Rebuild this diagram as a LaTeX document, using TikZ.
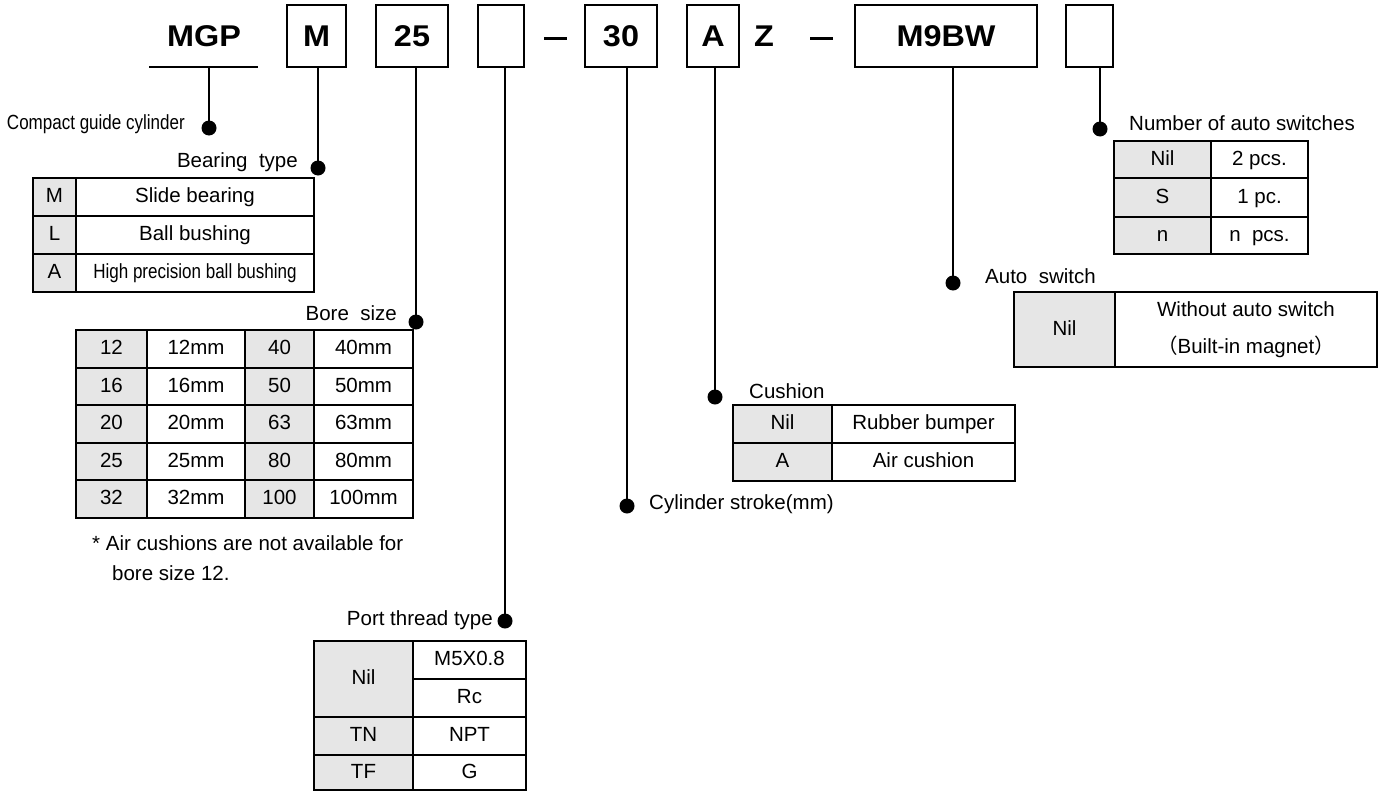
\documentclass[tikz,border=0pt]{standalone}
\usepackage{graphicx}
\usepackage{fontspec}
\setmainfont{Liberation Sans}
\newfontfamily\cjkfont{Noto Sans CJK JP}
\definecolor{cellgray}{HTML}{E6E6E6}
\newcommand\tcell[7]{\node[#6, minimum width={#4-#2}, minimum height={#5-#3}] (#1) at ({(#2+#4)/2},{(#3+#5)/2}) {#7};}
\newcommand\wide[1]{\scalebox{1.08}[1]{#1}}
\tikzset{
  ln/.style={line width=2.5pt},
  codebox/.style={draw, line width=2.5pt, inner sep=0pt, font=\fontsize{30}{36}\selectfont\bfseries},
  codetxt/.style={inner sep=0pt, font=\fontsize{30}{36}\selectfont\bfseries},
  lbl/.style={inner sep=0pt, font=\fontsize{20.5}{24}\selectfont},
  cellbase/.style={draw, line width=2.5pt, inner sep=0pt, font=\fontsize{20.5}{24}\selectfont},
  cell/.style={cellbase, text height=15pt, text depth=4pt},
  gcell/.style={cell, fill=cellgray},
  wcell/.style={cell, fill=white},
  dot/.style={circle, fill=black, inner sep=0pt, minimum size=15pt},
}
\begin{document}
\begin{tikzpicture}[x=1pt,y=-1pt]
\useasboundingbox (0,0) rectangle (1386,792);
\fill[white] (0,0) rectangle (1386,792);

% ---- top code row ----
\node[codetxt] (tMGP) at (204,36) {\wide{MGP}};
\coordinate (ulL) at (149,67);
\coordinate (ulR) at (258,67);
\draw[ln] (ulL) -- (ulR);
\node[codebox, minimum width=59, minimum height=62] (bM) at (316.5,36) {\wide{M}};
\node[codebox, minimum width=72, minimum height=62] (b25) at (412,36) {\wide{25}};
\node[codebox, minimum width=46, minimum height=62] (bP) at (501,36) {};
\coordinate (d1a) at (544,39); \coordinate (d1b) at (567,39);
\draw[line width=3pt] (d1a) -- (d1b);
\node[codebox, minimum width=72, minimum height=62] (b30) at (621,36) {\wide{30}};
\node[codebox, minimum width=52, minimum height=62] (bA) at (713,36) {\wide{A}};
\node[codetxt] (tZ) at (764,36) {\wide{Z}};
\coordinate (d2a) at (810,39); \coordinate (d2b) at (833,39);
\draw[line width=3pt] (d2a) -- (d2b);
\node[codebox, minimum width=182, minimum height=62] (bSW) at (946,36) {\wide{M9BW}};
\node[codebox, minimum width=47, minimum height=62] (bN) at (1089.5,36) {};

% ---- bullets ----
\node[dot] (dMGP) at (209,128) {};
\node[dot] (dM) at (318,168) {};
\node[dot] (d25) at (416,322) {};
\node[dot] (dP) at (505,621) {};
\node[dot] (d30) at (627,506) {};
\node[dot] (dA) at (715,397) {};
\node[dot] (dSW) at (953,283) {};
\node[dot] (dN) at (1100,129) {};

% ---- connectors ----
\draw[ln] (ulL -| dMGP) -- (dMGP.center);
\draw[ln] (bM.south -| dM) -- (dM.center);
\draw[ln] (b25.south -| d25) -- (d25.center);
\draw[ln] (bP.south -| dP) -- (dP.center);
\draw[ln] (b30.south -| d30) -- (d30.center);
\draw[ln] (bA.south -| dA) -- (dA.center);
\draw[ln] (bSW.south -| dSW) -- (dSW.center);
\draw[ln] (bN.south -| dN) -- (dN.center);

% ---- labels ----
\node[lbl, anchor=east] (lCGC) at (185,124) {\scalebox{0.83}[1]{Compact guide cylinder}};
\node[lbl, anchor=east] (lBT) at (298,162) {Bearing\ \ type};
\node[lbl, anchor=east] (lBS) at (397,313) {Bore\ \ size};
\node[lbl, anchor=east] (lPT) at (493,620) {Port thread type};
\node[lbl, anchor=west] (lCS) at (649,504) {Cylinder stroke(mm)};
\node[lbl, anchor=west] (lCU) at (749,391) {Cushion};
\node[lbl, anchor=west] (lAS) at (985,276) {Auto\ \ switch};
\node[lbl, anchor=west] (lNA) at (1129,123) {Number of auto switches};
\node[lbl, anchor=west] (note1) at (92,543) {* Air cushions are not available for};
\node[lbl, anchor=west] (note2) at (112,573) {bore size 12.};

% ---- bearing type table ----
\tcell{bt1a}{33}{178}{76}{216}{gcell}{M}
\tcell{bt1b}{76}{178}{314}{216}{wcell}{Slide bearing}
\tcell{bt2a}{33}{216}{76}{254}{gcell}{L}
\tcell{bt2b}{76}{216}{314}{254}{wcell}{Ball bushing}
\tcell{bt3a}{33}{254}{76}{292}{gcell}{A}
\tcell{bt3b}{76}{254}{314}{292}{wcell}{\scalebox{0.83}[1]{High precision ball bushing}}

% ---- bore size table ----
\tcell{bs1a}{76}{330}{147}{368}{gcell}{12}
\tcell{bs1b}{147}{330}{245}{368}{wcell}{12mm}
\tcell{bs1c}{245}{330}{314}{368}{gcell}{40}
\tcell{bs1d}{314}{330}{413}{368}{wcell}{40mm}
\tcell{bs2a}{76}{368}{147}{405}{gcell}{16}
\tcell{bs2b}{147}{368}{245}{405}{wcell}{16mm}
\tcell{bs2c}{245}{368}{314}{405}{gcell}{50}
\tcell{bs2d}{314}{368}{413}{405}{wcell}{50mm}
\tcell{bs3a}{76}{405}{147}{443}{gcell}{20}
\tcell{bs3b}{147}{405}{245}{443}{wcell}{20mm}
\tcell{bs3c}{245}{405}{314}{443}{gcell}{63}
\tcell{bs3d}{314}{405}{413}{443}{wcell}{63mm}
\tcell{bs4a}{76}{443}{147}{480}{gcell}{25}
\tcell{bs4b}{147}{443}{245}{480}{wcell}{25mm}
\tcell{bs4c}{245}{443}{314}{480}{gcell}{80}
\tcell{bs4d}{314}{443}{413}{480}{wcell}{80mm}
\tcell{bs5a}{76}{480}{147}{518}{gcell}{32}
\tcell{bs5b}{147}{480}{245}{518}{wcell}{32mm}
\tcell{bs5c}{245}{480}{314}{518}{gcell}{100}
\tcell{bs5d}{314}{480}{413}{518}{wcell}{100mm}

% ---- port thread table ----
\tcell{pt1a}{314}{641}{413}{717}{gcell}{Nil}
\tcell{pt1b}{413}{641}{526}{679}{wcell}{M5X0.8}
\tcell{pt1c}{413}{679}{526}{717}{wcell}{Rc}
\tcell{pt2a}{314}{717}{413}{755}{gcell}{TN}
\tcell{pt2b}{413}{717}{526}{755}{wcell}{NPT}
\tcell{pt3a}{314}{755}{413}{790}{gcell}{TF}
\tcell{pt3b}{413}{755}{526}{790}{wcell}{G}

% ---- cushion table ----
\tcell{cu1a}{733}{405}{832}{443}{gcell}{Nil}
\tcell{cu1b}{832}{405}{1015}{443}{wcell}{Rubber bumper}
\tcell{cu2a}{733}{443}{832}{481}{gcell}{A}
\tcell{cu2b}{832}{443}{1015}{481}{wcell}{Air cushion}

% ---- auto switch table ----
\tcell{as1a}{1014}{292}{1115}{367}{gcell}{Nil}
\tcell{as1b}{1115}{292}{1377}{367}{cellbase, fill=white, align=center, font=\fontsize{20.5}{37}\selectfont}{Without auto switch\\{\cjkfont（}Built-in magnet{\cjkfont）}}

% ---- number of auto switches table ----
\tcell{na1a}{1114}{141}{1211}{178}{gcell}{Nil}
\tcell{na1b}{1211}{141}{1308}{178}{wcell}{2 pcs.}
\tcell{na2a}{1114}{178}{1211}{217}{gcell}{S}
\tcell{na2b}{1211}{178}{1308}{217}{wcell}{1 pc.}
\tcell{na3a}{1114}{217}{1211}{254}{gcell}{n}
\tcell{na3b}{1211}{217}{1308}{254}{wcell}{n\ \ pcs.}
\end{tikzpicture}
\end{document}
